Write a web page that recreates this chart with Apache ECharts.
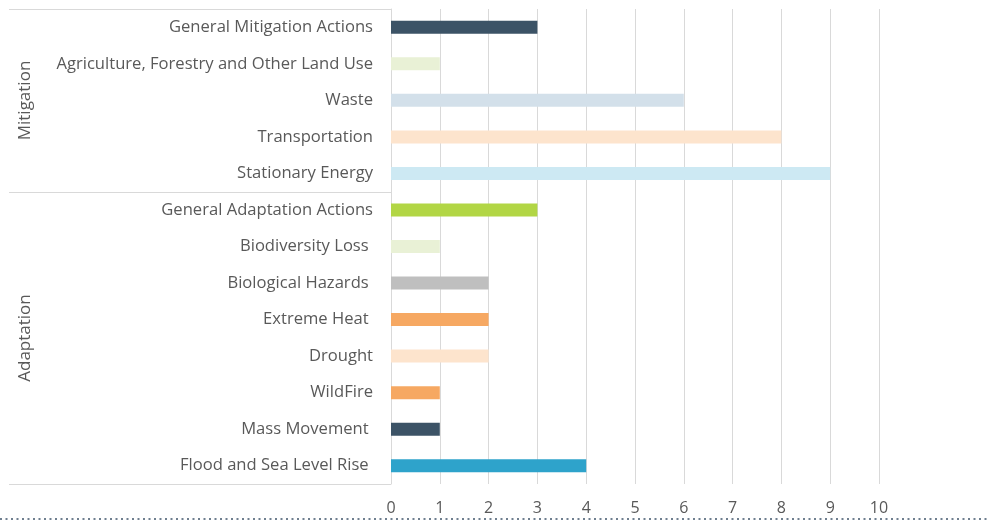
<!DOCTYPE html>
<html>
<head>
<meta charset="utf-8">
<script src="https://cdn.jsdelivr.net/npm/echarts@6/dist/echarts.min.js"></script>
<style>html,body{margin:0;padding:0;background:#fff}#c{width:987px;height:521px}</style>
</head>
<body>
<div id="c"></div>
<script>
const categories = ["General Mitigation Actions","Agriculture, Forestry and Other Land Use","Waste","Transportation","Stationary Energy","General Adaptation Actions","Biodiversity Loss ","Biological Hazards ","Extreme Heat ","Drought","WildFire","Mass Movement ","Flood and Sea Level Rise "];
const values = [3,1,6,8,9,3,1,2,2,2,1,1,4];
const barColors = ["#3c5366","#e9f1d6","#d3e0ea","#fde4cd","#cde9f3","#b2d645","#e9f1d6","#bfbfbf","#f6a862","#fde4cd","#f6a862","#3c5366","#2ea3cb"];
const groups = [{name:"Mitigation", from:0, to:4},{name:"Adaptation", from:5, to:12}];
const xTicks = [0,1,2,3,4,5,6,7,8,9,10];

const chart = echarts.init(document.getElementById('c'));
const FONT = '"Open Sans"';
const option = {
  animation:false,
  grid:{left:391, right:108, top:9, bottom:37},
  xAxis:{type:'value', min:xTicks[0], max:xTicks[xTicks.length-1], interval:1,
    axisLine:{show:false}, axisTick:{show:false},
    splitLine:{lineStyle:{color:'#d9d9d9', width:1}},
    axisLabel:{color:'#595959', fontFamily:FONT, fontSize:16, margin:16}},
  yAxis:{type:'category', data:categories, inverse:true,
    axisLine:{lineStyle:{color:'#d9d9d9'}}, axisTick:{show:false},
    axisLabel:{color:'#595959', fontFamily:FONT, fontSize:16.6, margin:18, padding:[2,0,0,0]}},
  series:[{type:'bar', barWidth:13,
    data: values.map((v,i)=>({value:v, itemStyle:{color:barColors[i]}}))}]
};
chart.setOption(option);

const left = 9, axisX = 391;
const topY = 9, botY = 484;
const gfx = [];
const bounds = [topY];
for (let g = 0; g < groups.length - 1; g++) {
  const a = chart.convertToPixel({yAxisIndex:0}, categories[groups[g].to]);
  const b = chart.convertToPixel({yAxisIndex:0}, categories[groups[g+1].from]);
  bounds.push(Math.round((a+b)/2));
}
bounds.push(botY);
bounds.forEach(y => gfx.push({type:'line', shape:{x1:left, y1:y+0.5, x2:axisX, y2:y+0.5}, style:{stroke:'#d9d9d9', lineWidth:1}}));
groups.forEach((g, i) => {
  const cy = (bounds[i] + bounds[i+1]) / 2;
  gfx.push({type:'text', x:25, y:cy, rotation:Math.PI/2,
    style:{text:g.name, fill:'#595959', font:'17px ' + FONT, textAlign:'center', textVerticalAlign:'middle'}});
});
gfx.push({type:'line', shape:{x1:0, y1:519, x2:987, y2:519}, style:{stroke:'#6f7f8f', lineWidth:2, lineDash:[2,3.5]}});
chart.setOption({graphic:gfx});
</script>
</body>
</html>
